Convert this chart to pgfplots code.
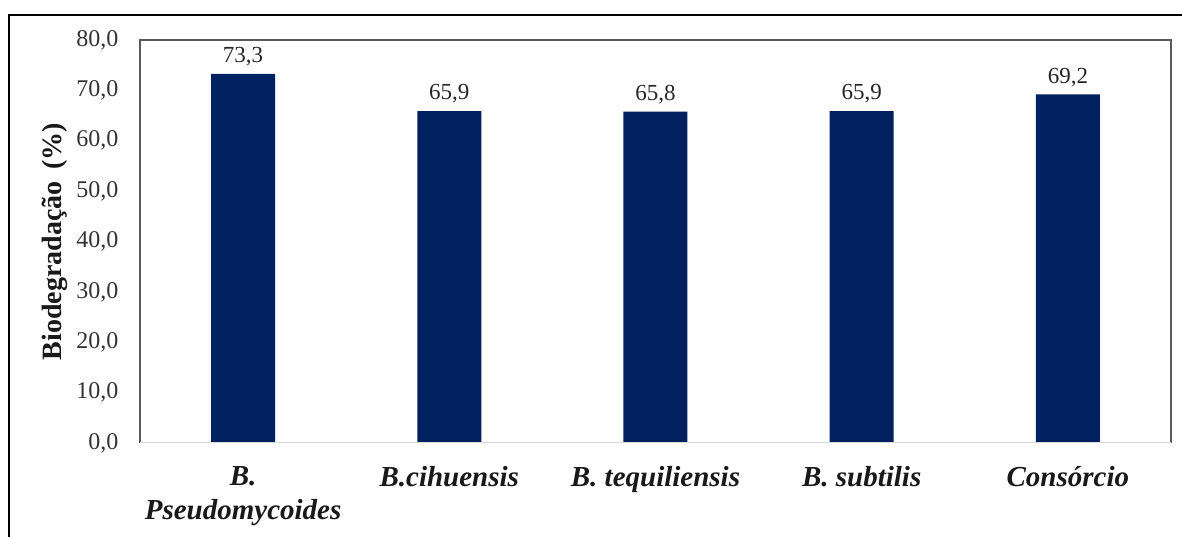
\documentclass[border=0pt]{standalone}
\usepackage{fontspec}
\setmainfont{Liberation Serif}
\usepackage{pgfplots}
\pgfplotsset{compat=1.18}
\definecolor{barblue}{HTML}{002060}
\begin{document}
\begin{tikzpicture}[x=1pt,y=1pt]
\useasboundingbox (0pt,0pt) rectangle (1182pt,537pt);
\draw[line width=1.6pt] (9pt,0pt) -- (9pt,522pt) -- (1182pt,522pt);
\begin{axis}[
  at={(140pt,94pt)}, anchor=south west,
  scale only axis, width=1031pt, height=403pt,
  xmin=-0.5, xmax=4.5, ymin=0, ymax=80,
  ytick={0,10,...,80},
  xtick={0,1,2,3,4},
  xticklabels={{B.\\Pseudomycoides},{B.cihuensis},{B. tequiliensis},{B. subtilis},{Consórcio}},
  xticklabel style={font=\fontsize{29}{34}\selectfont\bfseries\itshape, align=center, anchor=north, yshift=-20pt, text=black!90},
  yticklabel style={font=\fontsize{24}{26}\selectfont, xshift=-18pt, text=black!80},
  /pgf/number format/.cd, fixed, fixed zerofill, precision=1, use comma, assume math mode=true,
  /pgfplots/.cd,
  major tick length=0pt,
  axis line style={draw=none},
  ylabel={Biodegradação\, (\%)},
  ylabel style={font=\fontsize{28}{30}\selectfont\bfseries, at={(axis description cs:0,0.5)}, anchor=center, rotate=0, yshift=85pt, text=black!90},
  nodes near coords,
  every node near coord/.append style={font=\fontsize{23}{26}\selectfont, yshift=4pt, text=black!85, /pgf/number format/.cd, fixed, fixed zerofill, precision=1, use comma, assume math mode=true},
  clip=false,
]
\addplot[ybar, bar width=64pt, fill=barblue, draw=none] coordinates {(0,73.3) (1,65.9) (2,65.8) (3,65.9) (4,69.2)};
\draw[line width=1.2pt, draw=black!65] (rel axis cs:0,0) -- (rel axis cs:0,1) -- (rel axis cs:1,1) -- (rel axis cs:1,0);
\draw[line width=1pt, draw=black!15] (rel axis cs:0,0) -- (rel axis cs:1,0);
\end{axis}
\end{tikzpicture}
\end{document}
